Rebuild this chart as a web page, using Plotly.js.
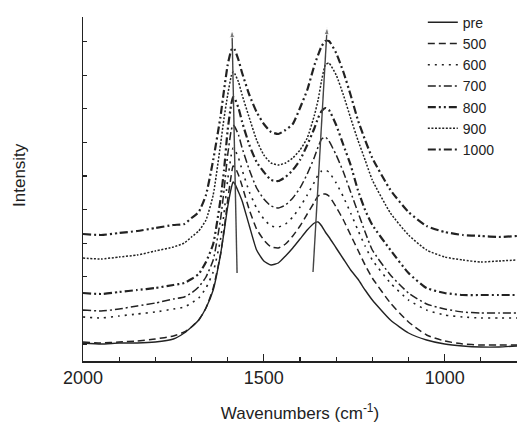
<!DOCTYPE html>
<html>
<head>
<meta charset="utf-8">
<script src="https://cdn.plot.ly/plotly-3.0.1.min.js"></script>
<style>html,body{margin:0;padding:0;background:#fff;}#chart{width:517px;height:426px;}</style>
</head>
<body>
<div id="chart"></div>
<script>
// Raman shift (cm-1), shared sample positions
const wavenumbers = [2000,1950,1900,1850,1800,1750,1720,1700,1680,1660,1640,1620,1610,1600,1590,1585,1580,1570,1560,1540,1520,1500,1480,1460,1440,1420,1400,1380,1360,1350,1340,1330,1320,1300,1280,1260,1240,1220,1200,1150,1100,1050,1000,950,900,850,800];

// Intensity (a.u.)
const seriesNames = ["pre","500","600","700","800","900","1000"];
const intPre  = [18,17,18,18,19,22,28,34,41,53,71,106,129,154,173,179,177,169,160,135,111,100,96,98,105,113,122,131,138,139,135,129,124,113,102,91,82,71,61,41,28,21,17,15,14,14,15];
const int500  = [19,18,19,20,22,25,29,34,41,53,73,106,131,161,186,195,194,186,175,151,132,121,114,113,117,125,135,147,159,165,167,167,165,154,141,126,111,96,83,58,39,26,20,17,16,16,16];
const int600  = [44,43,45,47,49,52,54,58,63,73,89,121,148,181,206,213,211,203,191,169,153,142,135,134,137,144,154,166,179,186,190,191,189,178,164,148,131,115,101,78,61,51,46,44,43,43,43];
const int700  = [51,50,52,55,58,62,64,68,74,84,101,141,171,206,231,236,234,226,213,191,173,162,155,153,156,163,173,187,204,214,222,224,220,206,189,169,149,129,111,86,68,57,52,49,48,48,48];
const int800  = [68,67,69,71,73,76,78,82,87,99,117,161,191,231,257,264,262,253,239,216,199,189,181,180,184,191,201,216,233,243,250,253,251,236,216,196,171,151,136,111,88,73,68,66,66,66,66];
const int900  = [103,102,104,106,110,114,118,124,130,141,166,216,243,266,285,289,287,279,266,243,221,206,198,196,198,203,211,223,246,261,281,296,298,286,266,243,221,201,181,148,126,111,104,101,99,100,101];
const int1000 = [127,126,128,130,133,136,137,143,149,166,201,244,271,296,311,313,311,301,288,266,249,237,229,227,231,237,253,271,296,306,315,320,320,308,289,266,241,221,203,171,149,135,129,126,125,124,125];

// peak-shift arrows (tail -> head)
const arrowGx = [1574, 1588], arrowGy = [88, 331];
const arrowDx = [1364, 1325], arrowDy = [89, 334];

const seriesValues = [intPre,int500,int600,int700,int800,int900,int1000];
const styles = [
  {dash:"solid", width:1.4},
  {dash:"7px,4px", width:1.5},
  {dash:"2px,5px", width:1.6},
  {dash:"8px,3px,2px,3px", width:1.5},
  {dash:"8px,3px,2px,3px,2px,3px", width:2.2},
  {dash:"2px,1.6px", width:1.5},
  {dash:"8px,3px,2px,3px,8px,3px,2px,3px,2px,3px", width:2.2}
];
const ink = "#222";

const traces = seriesNames.map((n,i)=>({
  x: wavenumbers, y: seriesValues[i], name: n, type:"scatter", mode:"lines",
  line:{color:ink, width:styles[i].width, dash:styles[i].dash, shape:"spline", smoothing:0.5}
}));
[[arrowGx,arrowGy],[arrowDx,arrowDy]].forEach(([ax,ay])=>{
  traces.push({x:ax, y:ay, type:"scatter", mode:"lines+markers", showlegend:false, hoverinfo:"skip",
    line:{color:"#444", width:1.4},
    marker:{symbol:"arrow", angleref:"previous", size:[0,8], color:"#444"}});
});

const yTicks = [17,50.6,84.2,117.8,151.4,185,218.6,252.2,285.8,319.4,344];

const layout = {
  width:517, height:426,
  margin:{l:83, r:0, t:17, b:65, pad:0},
  paper_bgcolor:"#fff", plot_bgcolor:"#fff",
  font:{family:"Arial, 'Liberation Sans', sans-serif", color:ink},
  showlegend:true,
  legend:{x:0.783, y:1.03, xanchor:"left", yanchor:"top", bgcolor:"rgba(0,0,0,0)",
          font:{size:14, color:ink}, tracegroupgap:0, itemwidth:30},
  xaxis:{range:[2000,800], showgrid:false, zeroline:false, showline:true, linecolor:ink, linewidth:1.5,
         ticks:"inside", ticklen:7, tickwidth:1.2, tickcolor:ink, tickvals:[2000,1500,1000],
         ticktext:["2000","1500","1000"], tickfont:{size:18, color:ink},
         minor:{ticks:"inside", ticklen:4, tickwidth:1.2, tickcolor:ink, dtick:100, showgrid:false},
         title:{text:"Wavenumbers (cm<sup>-1</sup>)", font:{size:17, color:ink}, standoff:20}},
  yaxis:{range:[0,344], showgrid:false, zeroline:false, showline:true, linecolor:ink, linewidth:1.5,
         ticks:"inside", ticklen:4, tickwidth:1.2, tickcolor:ink, tickvals:yTicks, showticklabels:false},
  annotations:[
    {xref:"paper", yref:"paper", x:-0.145, y:0.541, text:"Intensity", showarrow:false, textangle:-90,
     font:{size:17, color:ink}, xanchor:"center", yanchor:"middle"}
  ]
};

Plotly.newPlot("chart", traces, layout, {displayModeBar:false, staticPlot:true});
</script>
</body>
</html>
